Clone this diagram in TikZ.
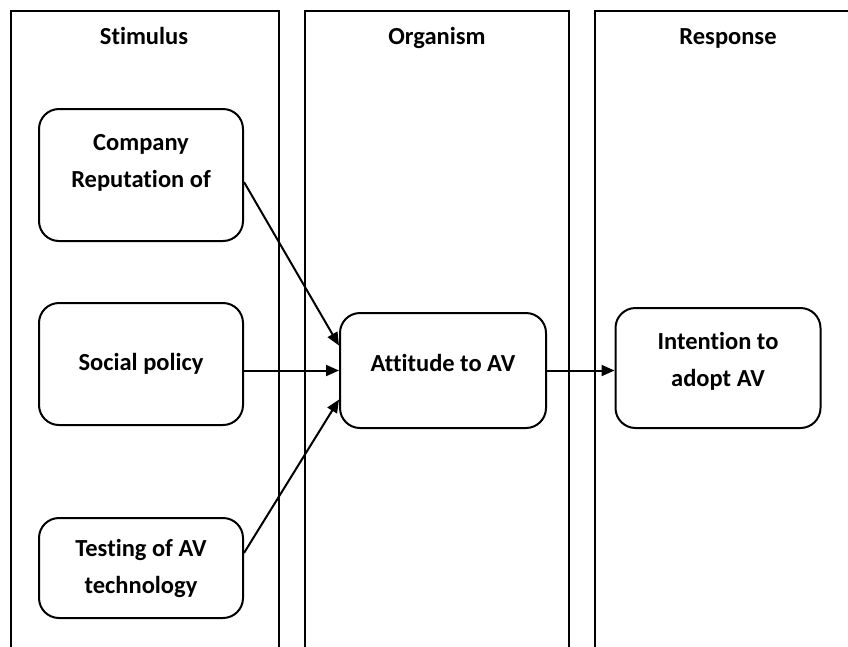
\documentclass[tikz,border=0pt]{standalone}
\usepackage{fontspec}
\setmainfont[RawFeature={-liga;-clig;-dlig}]{Carlito}
\usetikzlibrary{arrows.meta,calc}
\begin{document}
\begin{tikzpicture}[x=1pt,y=-1pt,
  col/.style={line width=2pt},
  title/.style={font=\fontsize{24.5}{36}\selectfont\bfseries, anchor=base},
  box/.style={draw, line width=2pt, rounded corners=20pt, align=center,
    font=\fontsize{24.5}{37}\selectfont\bfseries, inner sep=0pt},
  arr/.style={line width=2pt, -{Triangle[length=13pt,width=11pt]}}]
\useasboundingbox (0,0) rectangle (848,646);
% columns
\draw[col] (11,650) -- (11,11) -- (279,11) -- (279,650);
\draw[col] (305,650) -- (305,11) -- (569,11) -- (569,650);
\draw[col] (595,650) -- (595,11) -- (865,11) -- (865,650);
\node[title] (t1) at (144,44) {Stimulus};
\node[title] (t2) at (437,44) {Organism};
\node[title] (t3) at (728,44) {Response};
% boxes
\node[box, minimum width=204pt, minimum height=132pt] (b1) at (141,175)
  {Company\\Reputation of\rule[-28pt]{0pt}{0pt}};
\node[box, minimum width=204pt, minimum height=122pt] (b2) at (141,364)
  {Social policy};
\node[box, minimum width=204pt, minimum height=100pt] (b3) at (141,568)
  {Testing of AV\\technology};
\node[box, minimum width=206pt, minimum height=115pt] (att) at (443,370.5)
  {Attitude to AV\rule[-16pt]{0pt}{0pt}};
\node[box, minimum width=205pt, minimum height=120pt] (int) at (718,368)
  {Intention to\\adopt AV\rule[-18pt]{0pt}{0pt}};
% arrows
\draw[arr] ([yshift=-7pt]b1.east) -- ([yshift=25pt]att.west);
\draw[arr] (b2.east |- att.west) -- (att.west);
\draw[arr] ([yshift=15pt]b3.east) -- ([yshift=-29pt]att.west);
\draw[arr] (att.east) -- (int.west |- att.east);
\end{tikzpicture}
\end{document}
